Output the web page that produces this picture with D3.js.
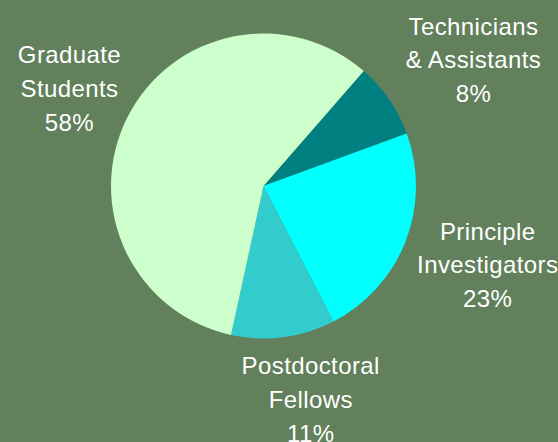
<!DOCTYPE html>
<html lang="en">
<head>
  <meta charset="UTF-8">
  <title>Pie chart</title>
  <style>
    body {
      margin: 0;
      background: #61805b;
    }
    svg text {
      font-family: "Liberation Sans", Arial, sans-serif;
      font-size: 24px;
      fill: #ffffff;
      letter-spacing: 0.4px;
    }
  </style>
</head>
<body>
  <div id="chart"></div>
  <script src="https://d3js.org/d3.v7.min.js"></script>
  <script>
    // Chart data (clockwise from the first slice)
    const categories = [
      ["Technicians", "& Assistants"],
      ["Principle", "Investigators"],
      ["Postdoctoral", "Fellows"],
      ["Graduate", "Students"]
    ];
    const values = [8, 23, 11, 58];
    const colors = ["#008080", "#00ffff", "#33cccc", "#ccffcc"];

    const width = 558, height = 442;
    const cx = 263.5, cy = 186, radius = 152.5;
    const firstAngle = 41.1 * Math.PI / 180;
    const lineHeight = 33.7;
    const labelRadius = 170;
    // small hand nudges so labels land where the original had them
    const labelNudge = [[14, -3], [0, 0], [16, -2], [4, 0]];

    const svg = d3.select("#chart").append("svg")
      .attr("width", width)
      .attr("height", height);

    const pie = d3.pie()
      .sort(null)
      .value(d => d)
      .startAngle(firstAngle)
      .endAngle(firstAngle + 2 * Math.PI);

    const arc = d3.arc().innerRadius(0).outerRadius(radius);
    const arcs = pie(values);

    const g = svg.append("g").attr("transform", `translate(${cx},${cy})`);

    g.selectAll("path")
      .data(arcs)
      .enter()
      .append("path")
      .attr("d", arc)
      .attr("fill", (d, i) => colors[i]);

    // Labels sit outside the pie, pushed out by half their own box
    const total = d3.sum(values);
    arcs.forEach((d, i) => {
      const mid = (d.startAngle + d.endAngle) / 2;
      const s = Math.sin(mid), c = Math.cos(mid);
      const lines = categories[i].concat([Math.round(d.value / total * 100) + "%"]);

      const text = g.append("text").attr("text-anchor", "middle");
      lines.forEach((line, j) => {
        text.append("tspan")
          .attr("x", 0)
          .attr("y", j * lineHeight)
          .text(line);
      });

      const box = text.node().getBBox();
      const bx = labelRadius * s + s * box.width / 2 + labelNudge[i][0];
      const by = -labelRadius * c - c * box.height / 2 + labelNudge[i][1];
      // shift so the box centre lands on (bx, by)
      const ox = bx - (box.x + box.width / 2);
      const oy = by - (box.y + box.height / 2);
      text.attr("transform", `translate(${ox},${oy})`);
    });
  </script>
</body>
</html>
